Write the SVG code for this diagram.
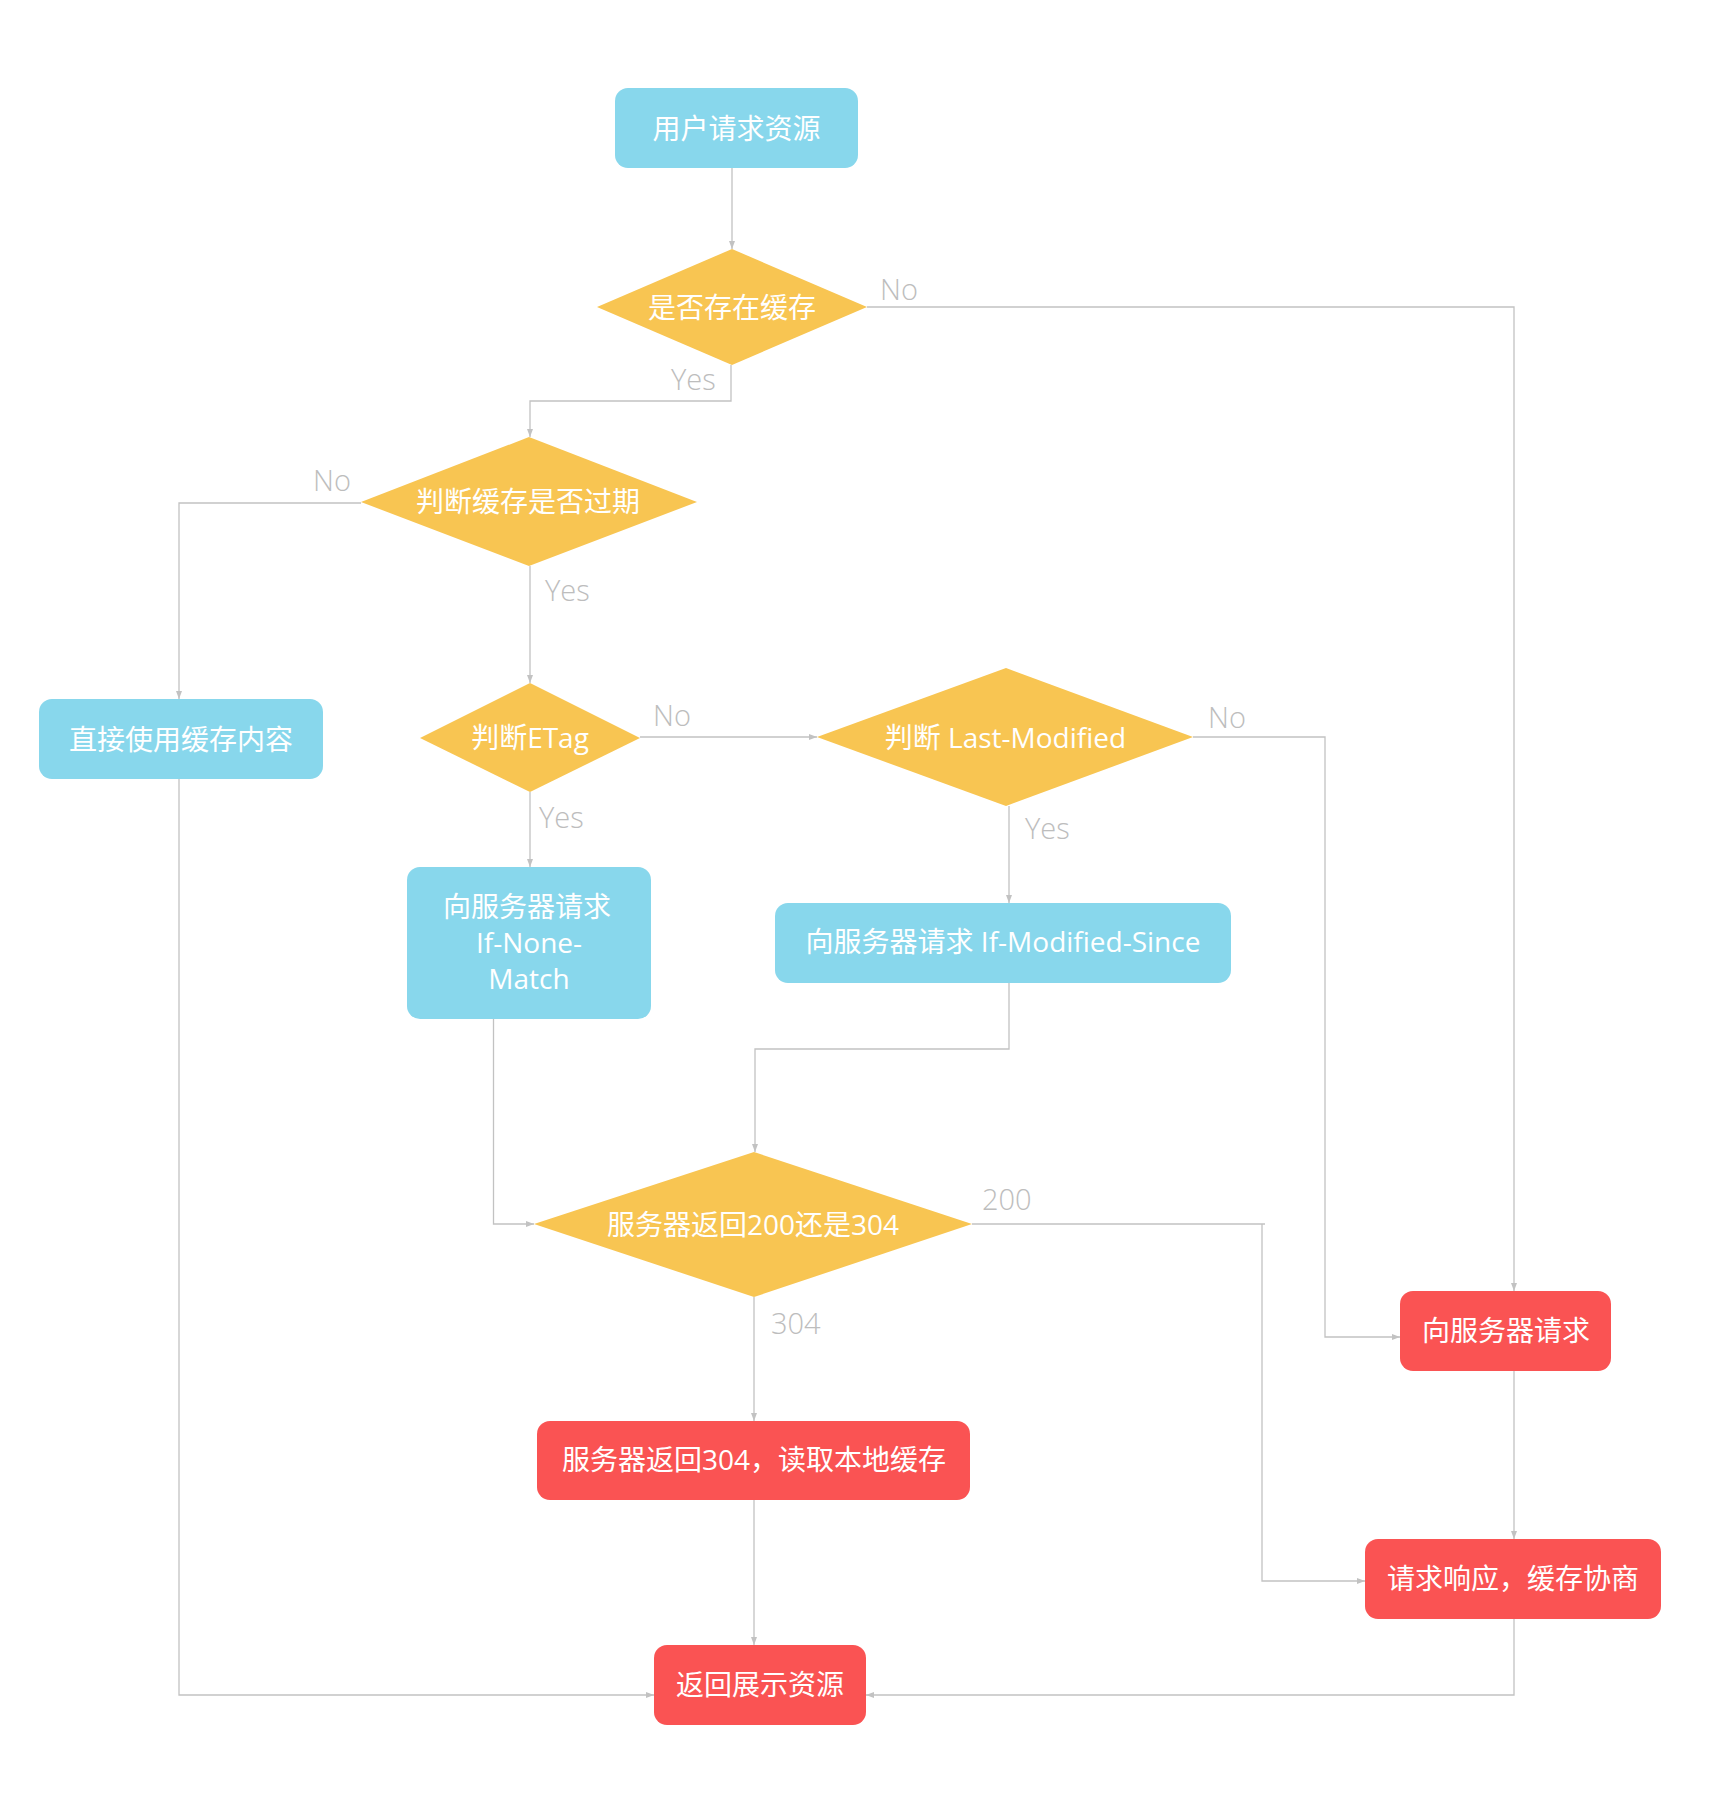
<svg xmlns="http://www.w3.org/2000/svg" width="1719" height="1813" viewBox="0 0 1719 1813">
<defs>
<style>
.blue{fill:#88D7EC}
.yellow{fill:#F8C552}
.red{fill:#FA5353}
.t{font-family:"Open Sans","Noto Sans CJK SC","DejaVu Sans",sans-serif;font-size:28px;fill:#FFFFFF;text-anchor:middle;font-variant-ligatures:none}
.lbl{font-family:"Open Sans","Noto Sans CJK SC",sans-serif;font-weight:300;font-size:29px;fill:#BDBDBD}
.c{fill:none;stroke:#C2C2C2;stroke-width:1.3;marker-end:url(#arr)}
.cn{fill:none;stroke:#C2C2C2;stroke-width:1.3}
</style>
<marker id="arr" markerUnits="userSpaceOnUse" markerWidth="9" markerHeight="7" refX="8" refY="3" orient="auto">
<path d="M0,0 L8,3 L0,6 z" fill="#C2C2C2"/>
</marker>
</defs>
<rect width="1719" height="1813" fill="#FFFFFF"/>

<g id="connectors">
<path class="c" d="M732,168 L732,249"/>
<path class="c" d="M867,307 L1514,307 L1514,1291"/>
<path class="c" d="M731,365 L731,401 L530,401 L530,437"/>
<path class="c" d="M361,503 L179,503 L179,699"/>
<path class="c" d="M530,566 L530,683"/>
<path class="c" d="M640,737 L817,737"/>
<path class="c" d="M530,792 L530,867"/>
<path class="c" d="M1193,737 L1325,737 L1325,1337 L1400,1337"/>
<path class="c" d="M1009,806 L1009,903"/>
<path class="c" d="M1009,983 L1009,1049 L755,1049 L755,1152"/>
<path class="c" d="M493.5,1019 L493.5,1224 L534,1224"/>
<path class="cn" d="M972,1224 L1265,1224"/>
<path class="c" d="M1262,1224 L1262,1581 L1365,1581"/>
<path class="c" d="M754,1297 L754,1421"/>
<path class="c" d="M754,1500 L754,1645"/>
<path class="c" d="M1514,1371 L1514,1539"/>
<path class="c" d="M1514,1619 L1514,1695 L866,1695"/>
<path class="c" d="M179,779 L179,1695 L654,1695"/>
<text class="lbl" x="880" y="300">No</text>
<text class="lbl" x="671" y="390">Yes</text>
<text class="lbl" x="313" y="491">No</text>
<text class="lbl" x="545" y="601">Yes</text>
<text class="lbl" x="653" y="726">No</text>
<text class="lbl" x="539" y="828">Yes</text>
<text class="lbl" x="1208" y="728">No</text>
<text class="lbl" x="1025" y="839">Yes</text>
<text class="lbl" x="982" y="1210">200</text>
<text class="lbl" x="771" y="1334">304</text>
</g>

<g id="n1">
<rect class="blue" x="615" y="88" width="243" height="80" rx="13"/>
<text class="t" x="736.5" y="139">用户请求资源</text>
</g>
<g id="n2">
<polygon class="yellow" points="732,249 867,307 732,365 597,307"/>
<text class="t" x="732" y="318">是否存在缓存</text>
</g>
<g id="n3">
<polygon class="yellow" points="529,437 697,502 529,566 361,502"/>
<text class="t" x="528" y="512">判断缓存是否过期</text>
</g>
<g id="n4">
<rect class="blue" x="39" y="699" width="284" height="80" rx="13"/>
<text class="t" x="181" y="750">直接使用缓存内容</text>
</g>
<g id="n5">
<polygon class="yellow" points="530,683 640,738 530,792 420,738"/>
<text class="t" x="530" y="748">判断ETag</text>
</g>
<g id="n6">
<polygon class="yellow" points="1006,668 1193,737 1006,806 817,737"/>
<text class="t" x="1005.5" y="748">判断 Last-Modified</text>
</g>
<g id="n7">
<rect class="blue" x="407" y="867" width="244" height="152" rx="13"/>
<text class="t" x="527" y="917">向服务器请求</text>
<text class="t" x="529" y="953">If-None-</text>
<text class="t" x="529" y="989">Match</text>
</g>
<g id="n8">
<rect class="blue" x="775" y="903" width="456" height="80" rx="13"/>
<text class="t" x="1003" y="952">向服务器请求 If-Modified-Since</text>
</g>
<g id="n9">
<polygon class="yellow" points="754,1152 972,1224 754,1297 534,1224"/>
<text class="t" x="753" y="1235">服务器返回200还是304</text>
</g>
<g id="n10">
<rect class="red" x="1400" y="1291" width="211" height="80" rx="13"/>
<text class="t" x="1506" y="1341">向服务器请求</text>
</g>
<g id="n11">
<rect class="red" x="537" y="1421" width="433" height="79" rx="13"/>
<text class="t" x="754" y="1470">服务器返回304，读取本地缓存</text>
</g>
<g id="n12">
<rect class="red" x="1365" y="1539" width="296" height="80" rx="13"/>
<text class="t" x="1513" y="1589">请求响应，缓存协商</text>
</g>
<g id="n13">
<rect class="red" x="654" y="1645" width="212" height="80" rx="13"/>
<text class="t" x="760" y="1695">返回展示资源</text>
</g>
</svg>
